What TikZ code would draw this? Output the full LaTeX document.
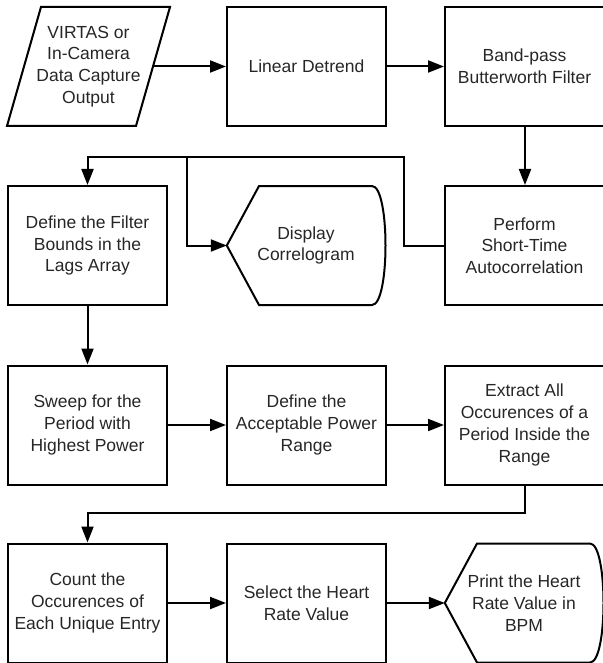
\documentclass[tikz,border=0pt]{standalone}
\usepackage{fontspec}
\setmainfont{Liberation Sans}
\usetikzlibrary{calc,arrows.meta}
\begin{document}
\begin{tikzpicture}[x=1pt,y=-1pt,
  txt/.style={align=center,font=\fontsize{17.5}{21.7}\selectfont,text=black!85,inner sep=0pt},
  procbox/.style={txt,draw=black,line width=2pt,minimum width=159,minimum height=119},
  widebox/.style={procbox,minimum width=162},
  ghost/.style={txt,minimum width=158,minimum height=119},
  outline/.style={draw=black,line width=2pt,line join=miter},
  arr/.style={draw=black,line width=2pt,-{Triangle[length=16pt,width=12pt]}},
  conn/.style={draw=black,line width=2pt}]
\useasboundingbox (0,0) rectangle (602,663);

% row 1
\node[txt,minimum width=131,minimum height=119] (in) at (88.5,66.5) {VIRTAS or\\In-Camera\\Data Capture\\Output};
\draw[outline] ($(in.center)+(-47.5,-59.5)$) -- ($(in.center)+(81.5,-59.5)$) -- ($(in.center)+(47.5,59.5)$) -- ($(in.center)+(-81.5,59.5)$) -- cycle;
\node[procbox] (det) at (306.5,66.5) {Linear Detrend};
\node[widebox] (bp) at (526,66.5) {\hspace*{-3pt}Band-pass\\\hspace*{-3pt}Butterworth Filter};

% row 2
\node[procbox] (def) at (87.5,245.5) {Define the Filter\\Bounds in the\\Lags Array};
\node[ghost] (disp) at (306,245.5) {Display\\Correlogram};
\draw[outline] (disp.west) -- ($(disp.center)+(-47,-59.5)$) -- ($(disp.center)+(66,-59.5)$)
  .. controls ($(disp.center)+(84,-59.5)$) and ($(disp.center)+(84,59.5)$) .. ($(disp.center)+(66,59.5)$)
  -- ($(disp.center)+(-47,59.5)$) -- cycle;
\node[widebox] (auto) at (526,245.5) {\hspace*{-3pt}Perform\\\hspace*{-3pt}Short-Time\\\hspace*{-3pt}Autocorrelation};

% row 3
\node[procbox] (sweep) at (87.5,425) {Sweep for the\\Period with\\Highest Power};
\node[procbox] (acc) at (306.5,425) {Define the\\Acceptable Power\\Range};
\node[widebox] (extr) at (526,425) {\hspace*{-3pt}Extract All\\\hspace*{-3pt}Occurences of a\\\hspace*{-3pt}Period Inside the\\\hspace*{-3pt}Range};

% row 4
\node[procbox] (count) at (87.5,603) {Count the\\Occurences of\\Each Unique Entry};
\node[procbox] (sel) at (306.5,603) {Select the Heart\\Rate Value};
\node[ghost] (print) at (524,603) {Print the Heart\\Rate Value in\\BPM};
\draw[outline] (print.west) -- ($(print.center)+(-47,-59.5)$) -- ($(print.center)+(66,-59.5)$)
  .. controls ($(print.center)+(84,-59.5)$) and ($(print.center)+(84,59.5)$) .. ($(print.center)+(66,59.5)$)
  -- ($(print.center)+(-47,59.5)$) -- cycle;

% junctions
\coordinate (j1) at (404,157);
\coordinate (j2) at (187,157);
\coordinate (j3) at (525,513);

% connectors
\draw[arr] (in.east) -- (det.west);
\draw[arr] (det.east) -- (bp.west);
\draw[arr] ([xshift=-1pt]bp.south) -- ([xshift=-1pt]auto.north);
\draw[arr] (auto.west) -| (j1) -| (def.north);
\draw[arr] (j2) |- (disp.west);
\draw[arr] (def.south) -- (sweep.north);
\draw[arr] (sweep.east) -- (acc.west);
\draw[arr] (acc.east) -- (extr.west);
\draw[arr] ([xshift=-1pt]extr.south) -- (j3) -| (count.north);
\draw[arr] (count.east) -- (sel.west);
\draw[arr] (sel.east) -- (print.west);
\end{tikzpicture}
\end{document}
